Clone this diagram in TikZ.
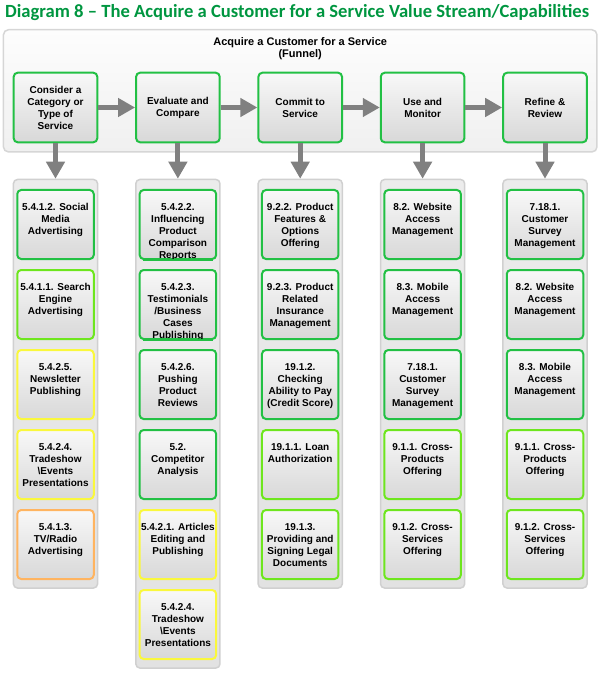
\documentclass[tikz,border=0pt]{standalone}
\usepackage{fontspec}
\setmainfont{Liberation Sans}
\newfontfamily\titlefont{Carlito}
\usetikzlibrary{arrows.meta}
\definecolor{titlegreen}{RGB}{0,150,64}
\definecolor{bgreen}{RGB}{34,192,68}
\definecolor{blime}{RGB}{110,230,30}
\definecolor{byellow}{RGB}{250,248,60}
\definecolor{borange}{RGB}{255,180,96}
\definecolor{arrowgray}{RGB}{128,128,128}
\newcommand{\cbt}[1]{\parbox[b][69pt][t]{76.5pt}{\centering\rule{0pt}{20.3pt}#1}}
\tikzset{
  funnelbox/.style={draw={rgb,255:red,214;green,214;blue,214}, line width=1.5pt, rounded corners=5pt,
    top color={rgb,255:red,253;green,253;blue,253}, bottom color={rgb,255:red,240;green,240;blue,240}, inner sep=0pt},
  colbox/.style={draw={rgb,255:red,208;green,208;blue,208}, line width=1.5pt, rounded corners=4pt,
    top color={rgb,255:red,236;green,236;blue,236}, bottom color={rgb,255:red,226;green,226;blue,226},
    minimum width=84.1pt, inner sep=0pt, anchor=north},
  topbox/.style={draw=bgreen, line width=2pt, rounded corners=4pt,
    top color={rgb,255:red,248;green,248;blue,248}, bottom color={rgb,255:red,216;green,216;blue,216},
    minimum width=83.6pt, minimum height=69.6pt, inner sep=0pt, align=center,
    font=\fontsize{10}{12}\selectfont\bfseries},
  cbox/.style={draw=#1, line width=2pt, rounded corners=4pt,
    top color={rgb,255:red,248;green,248;blue,248}, bottom color={rgb,255:red,216;green,216;blue,216},
    minimum width=76.5pt, minimum height=69pt, inner sep=0pt, anchor=north,
    font=\fontsize{10}{12}\selectfont\bfseries},
  bigarrow/.style={draw=arrowgray, line width=5pt, -{Triangle[width=18pt,length=17pt]}},
  bottomedge/.style={draw=bgreen, line width=2pt},
}
\begin{document}
\begin{tikzpicture}[x=1pt,y=-1pt]
\useasboundingbox (0,0) rectangle (606,676);
% title
\node[anchor=base west, inner sep=0pt, text=titlegreen,
  font=\titlefont\bfseries\fontsize{18.6}{20}\selectfont] (title) at (5,18)
  {Diagram 8 – The Acquire a Customer for a Service Value Stream/Capabilities};
% funnel
\node[funnelbox, minimum width=593.5pt, minimum height=122.2pt] (funnel) at (300.2,90.85) {};
\node[anchor=base, inner sep=0pt, font=\fontsize{11}{12.5}\selectfont\bfseries] (ftitle) at (300.2,45.2)
  {\parbox[t]{220pt}{\centering Acquire a Customer for a Service\\(Funnel)}};
\node[topbox] (f1) at (55.5,107.5) {Consider a\\Category or\\Type of\\Service};
\node[topbox] (f2) at (177.9,107.5) {Evaluate and\\Compare};
\node[topbox] (f3) at (300.2,107.5) {Commit to\\Service};
\node[topbox] (f4) at (422.6,107.5) {Use and\\Monitor};
\node[topbox] (f5) at (545.0,107.5) {Refine \&\\Review};
\draw[bigarrow] (f1) -- (f2);
\draw[bigarrow] (f2) -- (f3);
\draw[bigarrow] (f3) -- (f4);
\draw[bigarrow] (f4) -- (f5);
% columns
\node[colbox, minimum height=408.5pt] (c1) at (55.5,178.75) {};
\node[colbox, minimum height=488.5pt] (c2) at (177.9,178.75) {};
\node[colbox, minimum height=408.5pt] (c3) at (300.2,178.75) {};
\node[colbox, minimum height=408.5pt] (c4) at (422.6,178.75) {};
\node[colbox, minimum height=408.5pt] (c5) at (545.0,178.75) {};
\draw[bigarrow] (f1.south) -- (c1.north);
\draw[bigarrow] (f2.south) -- (c2.north);
\draw[bigarrow] (f3.south) -- (c3.north);
\draw[bigarrow] (f4.south) -- (c4.north);
\draw[bigarrow] (f5.south) -- (c5.north);
% column 1
\node[cbox=bgreen]   (c1b1) at (55.5,189) {\cbt{5.4.1.2. Social\\Media\\Advertising}};
\node[cbox=blime]    (c1b2) at (55.5,269) {\cbt{5.4.1.1. Search\\Engine\\Advertising}};
\node[cbox=byellow]  (c1b3) at (55.5,349) {\cbt{5.4.2.5.\\Newsletter\\Publishing}};
\node[cbox=byellow]  (c1b4) at (55.5,429) {\cbt{5.4.2.4.\\Tradeshow\\\textbackslash Events\\Presentations}};
\node[cbox=borange]  (c1b5) at (55.5,509) {\cbt{5.4.1.3.\\TV/Radio\\Advertising}};
% column 2
\node[cbox=bgreen]   (c2b1) at (177.9,189) {\cbt{5.4.2.2.\\Influencing\\Product\\Comparison\\Reports}};
\node[cbox=bgreen]   (c2b2) at (177.9,269) {\cbt{5.4.2.3.\\Testimonials\\/Business\\Cases\\Publishing}};
\draw[bottomedge] ([xshift=4pt]c2b1.south west) -- ([xshift=-4pt]c2b1.south east);
\draw[bottomedge] ([xshift=4pt]c2b2.south west) -- ([xshift=-4pt]c2b2.south east);
\node[cbox=bgreen]   (c2b3) at (177.9,349) {\cbt{5.4.2.6.\\Pushing\\Product\\Reviews}};
\node[cbox=bgreen]   (c2b4) at (177.9,429) {\cbt{5.2.\\Competitor\\Analysis}};
\node[cbox=byellow]  (c2b5) at (177.9,509) {\cbt{5.4.2.1. Articles\\Editing and\\Publishing}};
\node[cbox=byellow]  (c2b6) at (177.9,589) {\cbt{5.4.2.4.\\Tradeshow\\\textbackslash Events\\Presentations}};
% column 3
\node[cbox=bgreen]   (c3b1) at (300.2,189) {\cbt{9.2.2. Product\\Features \&\\Options\\Offering}};
\node[cbox=bgreen]   (c3b2) at (300.2,269) {\cbt{9.2.3. Product\\Related\\Insurance\\Management}};
\node[cbox=bgreen]   (c3b3) at (300.2,349) {\cbt{19.1.2.\\Checking\\Ability to Pay\\(Credit Score)}};
\node[cbox=blime]    (c3b4) at (300.2,429) {\cbt{19.1.1. Loan\\Authorization}};
\node[cbox=blime]    (c3b5) at (300.2,509) {\cbt{19.1.3.\\Providing and\\Signing Legal\\Documents}};
% column 4
\node[cbox=bgreen]   (c4b1) at (422.6,189) {\cbt{8.2. Website\\Access\\Management}};
\node[cbox=bgreen]   (c4b2) at (422.6,269) {\cbt{8.3. Mobile\\Access\\Management}};
\node[cbox=bgreen]   (c4b3) at (422.6,349) {\cbt{7.18.1.\\Customer\\Survey\\Management}};
\node[cbox=blime]    (c4b4) at (422.6,429) {\cbt{9.1.1. Cross-\\Products\\Offering}};
\node[cbox=blime]    (c4b5) at (422.6,509) {\cbt{9.1.2. Cross-\\Services\\Offering}};
% column 5
\node[cbox=bgreen]   (c5b1) at (545.0,189) {\cbt{7.18.1.\\Customer\\Survey\\Management}};
\node[cbox=bgreen]   (c5b2) at (545.0,269) {\cbt{8.2. Website\\Access\\Management}};
\node[cbox=bgreen]   (c5b3) at (545.0,349) {\cbt{8.3. Mobile\\Access\\Management}};
\node[cbox=blime]    (c5b4) at (545.0,429) {\cbt{9.1.1. Cross-\\Products\\Offering}};
\node[cbox=blime]    (c5b5) at (545.0,509) {\cbt{9.1.2. Cross-\\Services\\Offering}};
\end{tikzpicture}
\end{document}
